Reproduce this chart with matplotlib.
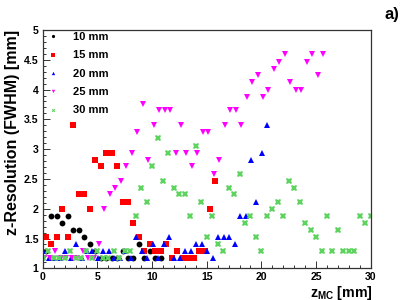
import matplotlib
matplotlib.use("Agg")
import matplotlib.pyplot as plt
from matplotlib.ticker import MultipleLocator
from matplotlib.lines import Line2D

plt.rcParams['font.family'] = ['Liberation Sans', 'DejaVu Sans']
plt.rcParams['font.weight'] = 'bold'
plt.rcParams['mathtext.fontset'] = 'custom'
plt.rcParams['mathtext.bf'] = 'Liberation Sans:bold'
plt.rcParams['mathtext.rm'] = 'Liberation Sans:bold'
plt.rcParams['mathtext.it'] = 'Liberation Sans:bold'

labels = ["10 mm", "15 mm", "20 mm", "25 mm", "30 mm"]

# 10 mm (black circles)
x10 = [0.3, 0.8, 1.3, 1.8, 2.3, 2.8, 3.3, 3.8, 4.3, 4.8, 5.3, 5.8, 6.3, 6.8,
       7.3, 7.8, 8.3, 8.8, 9.3, 9.8, 10.3, 10.8]
y10 = [1.29, 1.88, 1.88, 1.76, 1.88, 1.65, 1.65, 1.53, 1.41, 1.29, 1.18, 1.18,
       1.18, 1.18, 1.29, 1.18, 1.18, 1.41, 1.18, 1.29, 1.18, 1.18]

# 15 mm (red squares)
x15 = [0.3, 0.8, 1.3, 1.8, 2.3, 2.8, 3.3, 3.8, 4.3, 4.8, 5.3, 5.8, 6.3, 6.8,
       7.3, 7.8, 8.3, 8.8, 9.3, 9.8, 10.3, 10.8, 11.3, 11.8, 12.3, 12.8, 13.3,
       13.8, 14.3, 14.8, 15.3, 15.8]
y15 = [1.53, 1.41, 1.53, 2.00, 1.53, 3.41, 2.24, 2.24, 2.00, 2.82, 2.71, 2.94,
       2.94, 2.71, 2.12, 2.12, 1.76, 1.53, 1.29, 1.41, 1.29, 1.29, 1.41, 1.18,
       1.29, 1.18, 1.18, 1.18, 1.29, 1.29, 2.00, 2.47]

# 20 mm (blue triangles)
x20 = [0.05, 0.55, 1.05, 1.55, 2.05, 2.55, 3.05, 3.55, 4.05, 4.55, 5.05, 5.55,
       6.05, 6.55, 7.05, 7.55, 8.05, 8.55, 9.05, 9.55, 10.05, 10.55, 11.05,
       11.55, 12.05, 12.55, 13.05, 13.55, 14.05, 14.55, 15.05, 15.55, 16.05,
       16.55, 17.05, 17.55, 18.05, 18.55, 19.05, 19.55, 20.05, 20.55]
y20 = [1.29, 1.18, 1.18, 1.18, 1.29, 1.18, 1.41, 1.18, 1.29, 1.29, 1.18, 1.29,
       1.29, 1.18, 1.18, 1.29, 1.18, 1.53, 1.29, 1.18, 1.41, 1.18, 1.41, 1.53,
       1.18, 1.18, 1.29, 1.29, 1.41, 1.41, 1.29, 1.18, 1.53, 1.53, 1.53, 1.41,
       1.88, 1.88, 2.82, 2.12, 2.94, 3.41]

# 25 mm (magenta down triangles)
x25 = [0.15, 0.65, 1.15, 1.65, 2.15, 2.65, 3.15, 3.65, 4.15, 4.65, 5.15, 5.65,
       6.15, 6.65, 7.15, 7.65, 8.15, 8.65, 9.15, 9.65, 10.15, 10.65, 11.15,
       11.65, 12.15, 12.65, 13.15, 13.65, 14.15, 14.65, 15.15, 15.65, 16.15,
       16.65, 17.15, 17.65, 18.15, 18.65, 19.15, 19.65, 20.15, 20.65, 21.15,
       21.65, 22.15, 22.65, 23.15, 23.65, 24.15, 24.65, 25.15, 25.65]
y25 = [1.18, 1.18, 1.29, 1.18, 1.18, 1.18, 1.18, 1.29, 1.18, 1.18, 1.41, 2.00,
       2.24, 2.35, 2.47, 2.71, 2.94, 3.29, 3.76, 2.82, 3.41, 3.65, 3.65, 3.65,
       2.94, 3.41, 2.94, 2.71, 2.94, 3.29, 3.29, 2.59, 2.82, 3.41, 3.65, 3.65,
       3.41, 3.88, 4.12, 4.24, 3.88, 4.00, 4.35, 4.47, 4.59, 4.12, 4.00, 4.00,
       4.47, 4.59, 4.24, 4.59]

# 30 mm (green crosses)
x30 = [0.0, 0.5, 1.0, 1.5, 2.0, 2.5, 3.0, 3.5, 4.0, 4.5, 5.0, 5.5, 6.0, 6.5,
       7.0, 7.5, 8.0, 8.5, 9.0, 9.5, 10.0, 10.5, 11.0, 11.5, 12.0, 12.5, 13.0,
       13.5, 14.0, 14.5, 15.0, 15.5, 16.0, 16.5, 17.0, 17.5, 18.0, 18.5, 19.0,
       19.5, 20.0, 20.5, 21.0, 21.5, 22.0, 22.5, 23.0, 23.5, 24.0, 24.5, 25.0,
       25.5, 26.0, 26.5, 27.0, 27.5, 28.0, 28.5, 29.0, 29.5, 30.0]
y30 = [1.18, 1.29, 1.18, 1.18, 1.18, 1.29, 1.18, 1.18, 1.29, 1.18, 1.29, 1.18,
       1.18, 1.29, 1.18, 1.29, 1.29, 1.88, 2.35, 2.12, 2.71, 3.18, 2.47, 2.94,
       2.35, 2.24, 2.24, 1.88, 3.06, 2.12, 1.53, 1.88, 1.41, 1.29, 2.35, 2.24,
       2.59, 1.76, 1.88, 1.53, 1.29, 1.88, 2.00, 2.12, 1.88, 2.47, 2.35, 2.12,
       1.76, 1.65, 1.53, 1.29, 1.88, 1.29, 1.65, 1.29, 1.29, 1.29, 1.88, 1.76,
       1.88]

xticks = [0, 5, 10, 15, 20, 25, 30]
yticks = [1, 1.5, 2, 2.5, 3, 3.5, 4, 4.5, 5]
ytick_labels = ["1", "1.5", "2", "2.5", "3", "3.5", "4", "4.5", "5"]

fig = plt.figure(figsize=(4.15, 3.0), dpi=100)
ax = fig.add_axes([42.7/415, 1-268.3/300, (370.7-42.7)/415, (268.3-30)/300])

series = [
    (x10, y10, dict(marker='o', color='black', ms=4.2)),
    (x15, y15, dict(marker='s', color='#ff0000', ms=4.0)),
    (x20, y20, dict(marker='^', color='#0000ff', ms=4.4)),
    (x25, y25, dict(marker='v', color='#ff00ff', ms=4.4)),
    (x30, y30, dict(marker='X', color='#5fd35f', ms=4.4)),
]
handles = []
for (xs, ys, st), lab in zip(series, labels):
    ax.plot(xs, ys, linestyle='none', markeredgewidth=0, clip_on=True, **st)
    handles.append(Line2D([], [], linestyle='none', markeredgewidth=0,
                          marker=st['marker'], color=st['color'], ms=st['ms'] * 0.55))

ax.set_xlim(0, 30)
ax.set_ylim(1, 5)
ax.set_xticks(xticks)
ax.set_xticklabels([str(t) for t in xticks])
ax.set_yticks(yticks)
ax.set_yticklabels(ytick_labels)
ax.xaxis.set_minor_locator(MultipleLocator(1))
ax.yaxis.set_minor_locator(MultipleLocator(0.1))
ax.tick_params(which='both', direction='in', top=False, right=False,
               labelsize=7.6, width=0.7, color='#333333')
ax.tick_params(which='major', length=5)
ax.tick_params(which='minor', length=2.5)
ax.tick_params(axis='x', pad=3.0)
ax.tick_params(axis='y', pad=3)
for lab in ax.get_xticklabels() + ax.get_yticklabels():
    lab.set_fontweight('bold')
for sp in ax.spines.values():
    sp.set_linewidth(0.9)
    sp.set_color('#333333')

leg = ax.legend(handles, labels, loc='upper left', frameon=False,
                prop={'weight': 'bold', 'size': 8}, handlelength=1.0,
                handletextpad=1.3, labelspacing=0.75,
                borderaxespad=0.0, bbox_to_anchor=(0.0, 1.01))

fig.text(13/415, 1-30/300, "z-Resolution (FWHM) [mm]", rotation=90,
         ha='center', va='top', fontsize=11.5, fontweight='bold')
fig.text(373/415, 1-283.5/300, r"$\mathbf{z_{MC}}$ [mm]", ha='right',
         va='top', fontsize=10.2, fontweight='bold')
fig.text(392/415, 1-15/300, "a)", ha='center', va='center',
         fontsize=12, fontweight='bold')

fig.savefig("out.png", dpi=100)
